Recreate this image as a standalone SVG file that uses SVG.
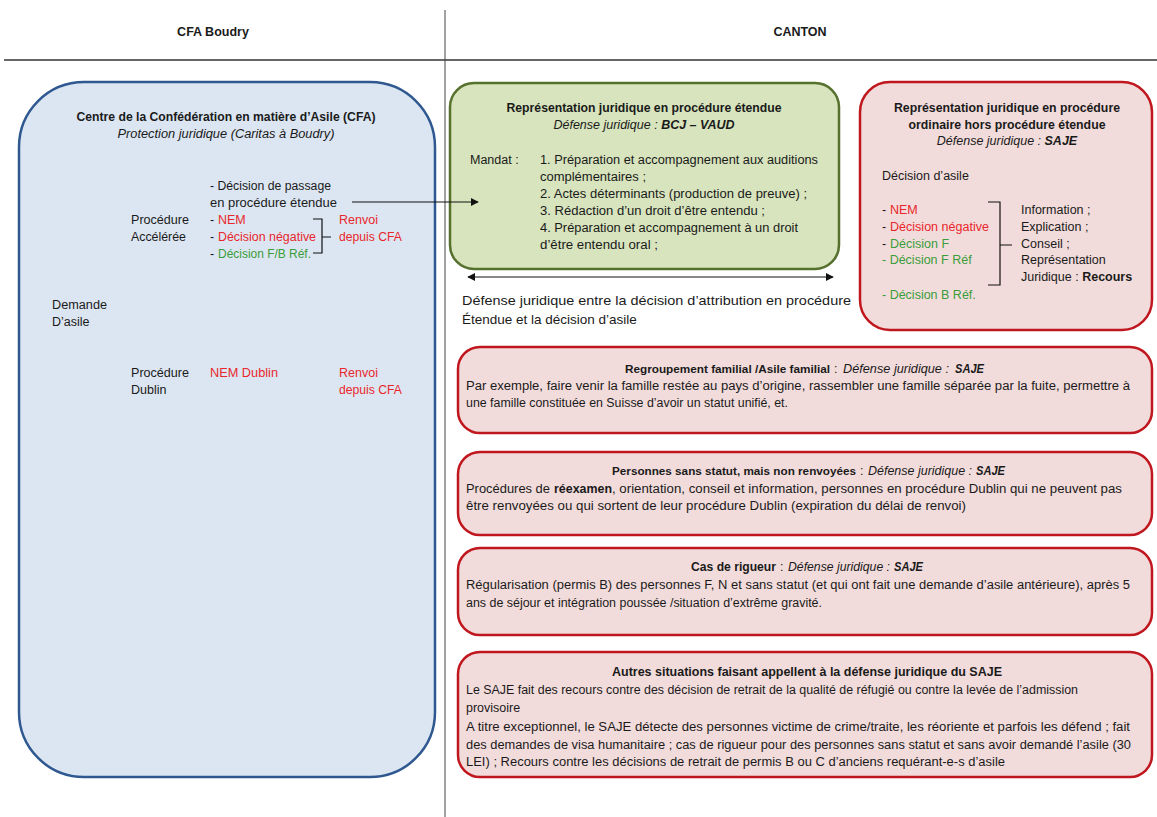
<svg xmlns="http://www.w3.org/2000/svg" width="1157" height="817" viewBox="0 0 1157 817">
<style>
text{font-family:"Liberation Sans",Arial,sans-serif;font-size:12.5px;fill:#1a1a1a}
.b{font-weight:bold}
.i{font-style:italic}
.bi{font-weight:bold;font-style:italic}
.m{text-anchor:middle}
.r{fill:#e8262b}
.g{fill:#3a9c3a}
.s{font-size:11.5px}
.blue{fill:#dce6f2;stroke:#2f5890;stroke-width:2.5}
.green{fill:#d7e4bd;stroke:#56702e;stroke-width:2.5}
.red{fill:#f2dcdb;stroke:#c0171e;stroke-width:2.5}
.ln{stroke:#111;stroke-width:1.2;fill:none}
</style>
<defs>
<marker id="ah" viewBox="0 0 10 10" refX="9" refY="5" markerWidth="8" markerHeight="8" orient="auto-start-reverse" markerUnits="userSpaceOnUse"><path d="M0,0 L10,5 L0,10 z" fill="#111"/></marker>
</defs>
<rect width="1157" height="817" fill="#fff"/>
<g id="frame">
<line x1="4" y1="60" x2="1157" y2="60" stroke="#666" stroke-width="2"/>
<line x1="445" y1="10" x2="445" y2="817" stroke="#444" stroke-width="1"/>
<text class="b m" x="213" y="36">CFA Boudry</text>
<text class="b m" x="800" y="36">CANTON</text>
</g>
<g id="cfa">
<rect class="blue" x="19" y="82" width="416" height="695" rx="65"/>
<text class="b m" x="226" y="121" textLength="299" lengthAdjust="spacingAndGlyphs">Centre de la Confédération en matière d’Asile (CFA)</text>
<text class="i m" x="226" y="138" textLength="217" lengthAdjust="spacingAndGlyphs">Protection juridique (Caritas à Boudry)</text>
<text x="210" y="190" textLength="121" lengthAdjust="spacingAndGlyphs">- Décision de passage</text>
<text x="210" y="207" textLength="127" lengthAdjust="spacingAndGlyphs">en procédure étendue</text>
<text x="131" y="224" textLength="58" lengthAdjust="spacingAndGlyphs">Procédure</text>
<text x="131" y="241" textLength="55" lengthAdjust="spacingAndGlyphs">Accélérée</text>
<text x="210" y="224">-</text>
<text class="r" x="218" y="224">NEM</text>
<text x="210" y="241">-</text>
<text class="r" x="218" y="241" textLength="98" lengthAdjust="spacingAndGlyphs">Décision négative</text>
<text x="210" y="258">-</text>
<text class="g" x="218" y="258" textLength="93" lengthAdjust="spacingAndGlyphs">Décision F/B Réf.</text>
<path class="ln" d="M313,219 H322 V253 H313 M322,237 H331"/>
<text class="r" x="339" y="224">Renvoi</text>
<text class="r" x="339" y="241" textLength="63" lengthAdjust="spacingAndGlyphs">depuis CFA</text>
<text x="52" y="309" textLength="55" lengthAdjust="spacingAndGlyphs">Demande</text>
<text x="52" y="326">D’asile</text>
<text x="131" y="377" textLength="58" lengthAdjust="spacingAndGlyphs">Procédure</text>
<text x="131" y="394">Dublin</text>
<text class="r" x="210" y="377" textLength="68" lengthAdjust="spacingAndGlyphs">NEM Dublin</text>
<text class="r" x="339" y="377">Renvoi</text>
<text class="r" x="339" y="394" textLength="63" lengthAdjust="spacingAndGlyphs">depuis CFA</text>
</g>
<g id="etendue">
<rect class="green" x="450" y="83" width="389" height="186" rx="24"/>
<text class="b m" x="644" y="112" textLength="275" lengthAdjust="spacingAndGlyphs">Représentation juridique en procédure étendue</text>
<text class="i m" x="644" y="129">Défense juridique : <tspan class="bi">BCJ – VAUD</tspan></text>
<text x="470" y="164">Mandat :</text>
<text x="540" y="164" textLength="278" lengthAdjust="spacingAndGlyphs">1. Préparation et accompagnement aux auditions</text>
<text x="540" y="181" textLength="106" lengthAdjust="spacingAndGlyphs">complémentaires ;</text>
<text x="540" y="198" textLength="267" lengthAdjust="spacingAndGlyphs">2. Actes déterminants (production de preuve) ;</text>
<text x="540" y="215" textLength="225" lengthAdjust="spacingAndGlyphs">3. Rédaction d’un droit d’être entendu ;</text>
<text x="540" y="232" textLength="258" lengthAdjust="spacingAndGlyphs">4. Préparation et accompagnement à un droit</text>
<text x="540" y="249" textLength="118" lengthAdjust="spacingAndGlyphs">d’être entendu oral ;</text>
</g>
<g id="ordinaire">
<rect class="red" x="860" y="82" width="292" height="248" rx="30"/>
<text class="b m" x="1007" y="112" textLength="226" lengthAdjust="spacingAndGlyphs">Représentation juridique en procédure</text>
<text class="b m" x="1007" y="129" textLength="197" lengthAdjust="spacingAndGlyphs">ordinaire hors procédure étendue</text>
<text class="i m" x="1007" y="145">Défense juridique : <tspan class="bi">SAJE</tspan></text>
<text x="882" y="180">Décision d’asile</text>
<text x="882" y="214">-</text>
<text class="r" x="890" y="214">NEM</text>
<text x="882" y="231">-</text>
<text class="r" x="890" y="231" textLength="99" lengthAdjust="spacingAndGlyphs">Décision négative</text>
<text x="882" y="248">-</text>
<text class="g" x="890" y="248">Décision F</text>
<text class="g" x="882" y="264">- Décision F Réf</text>
<text class="g" x="882" y="299">- Décision B Réf.</text>
<path class="ln" d="M988,202 H1000 V285 H988 M1000,245 H1012"/>
<text x="1021" y="214">Information ;</text>
<text x="1021" y="231">Explication ;</text>
<text x="1021" y="248">Conseil ;</text>
<text x="1021" y="264">Représentation</text>
<text x="1021" y="281">Juridique : <tspan class="b">Recours</tspan></text>
</g>
<g id="regroupement">
<rect class="red" x="458" y="347" width="694" height="86" rx="22"/>
<text class="b s" x="625" y="373" textLength="205" lengthAdjust="spacingAndGlyphs">Regroupement familial /Asile familial</text>
<text x="834" y="373">:</text>
<text class="i" x="843" y="373" textLength="106" lengthAdjust="spacingAndGlyphs">Défense juridique :</text>
<text class="bi" x="955" y="373" textLength="29" lengthAdjust="spacingAndGlyphs">SAJE</text>
<text x="466" y="390" textLength="664" lengthAdjust="spacingAndGlyphs">Par exemple, faire venir la famille restée au pays d’origine, rassembler une famille séparée par la fuite, permettre à</text>
<text x="466" y="407" textLength="322" lengthAdjust="spacingAndGlyphs">une famille constituée en Suisse d’avoir un statut unifié, et.</text>
</g>
<g id="sans-statut">
<rect class="red" x="458" y="452" width="694" height="83" rx="22"/>
<text class="b s" x="612" y="475" textLength="244" lengthAdjust="spacingAndGlyphs">Personnes sans statut, mais non renvoyées</text>
<text x="860" y="475">:</text>
<text class="i" x="868" y="475" textLength="104" lengthAdjust="spacingAndGlyphs">Défense juridique :</text>
<text class="bi" x="976" y="475" textLength="29" lengthAdjust="spacingAndGlyphs">SAJE</text>
<text x="466" y="493" textLength="84" lengthAdjust="spacingAndGlyphs">Procédures de</text>
<text class="b" x="554" y="493" textLength="58" lengthAdjust="spacingAndGlyphs">réexamen</text>
<text x="612" y="493" textLength="510" lengthAdjust="spacingAndGlyphs">, orientation, conseil et information, personnes en procédure Dublin qui ne peuvent pas</text>
<text x="466" y="510" textLength="500" lengthAdjust="spacingAndGlyphs">être renvoyées ou qui sortent de leur procédure Dublin (expiration du délai de renvoi)</text>
</g>
<g id="rigueur">
<rect class="red" x="458" y="548" width="694" height="87" rx="22"/>
<text class="b" x="691" y="571" textLength="85" lengthAdjust="spacingAndGlyphs">Cas de rigueur</text>
<text x="780" y="571">:</text>
<text class="i" x="788" y="571" textLength="102" lengthAdjust="spacingAndGlyphs">Défense juridique :</text>
<text class="bi" x="894" y="571" textLength="29" lengthAdjust="spacingAndGlyphs">SAJE</text>
<text x="466" y="589" textLength="664" lengthAdjust="spacingAndGlyphs">Régularisation (permis B) des personnes F, N et sans statut (et qui ont fait une demande d’asile antérieure), après 5</text>
<text x="466" y="607" textLength="356" lengthAdjust="spacingAndGlyphs">ans de séjour et intégration poussée /situation d’extrême gravité.</text>
</g>
<g id="autres">
<rect class="red" x="458" y="652" width="694" height="125" rx="22"/>
<text class="b m" x="807" y="676" textLength="390" lengthAdjust="spacingAndGlyphs">Autres situations faisant appellent à la défense juridique du SAJE</text>
<text x="466" y="694" textLength="612" lengthAdjust="spacingAndGlyphs">Le SAJE fait des recours contre des décision de retrait de la qualité de réfugié ou contre la levée de l’admission</text>
<text x="466" y="712">provisoire</text>
<text x="466" y="731" textLength="664" lengthAdjust="spacingAndGlyphs">A titre exceptionnel, le SAJE détecte des personnes victime de crime/traite, les réoriente et parfois les défend ; fait</text>
<text x="466" y="749" textLength="665" lengthAdjust="spacingAndGlyphs">des demandes de visa humanitaire ; cas de rigueur pour des personnes sans statut et sans avoir demandé l’asile (30</text>
<text x="466" y="766" textLength="539" lengthAdjust="spacingAndGlyphs">LEI) ; Recours contre les décisions de retrait de permis B ou C d’anciens requérant-e-s d’asile</text>
</g>
<g id="connectors">
<line class="ln" x1="352" y1="202" x2="478" y2="202" marker-end="url(#ah)"/>
<line class="ln" x1="468" y1="277" x2="833" y2="277" marker-start="url(#ah)" marker-end="url(#ah)"/>
</g>
<g id="note">
<text x="462" y="305" style="font-size:13.5px" textLength="389" lengthAdjust="spacingAndGlyphs">Défense juridique entre la décision d’attribution en procédure</text>
<text x="462" y="324" style="font-size:13.5px">Étendue et la décision d’asile</text>
</g>
</svg>
